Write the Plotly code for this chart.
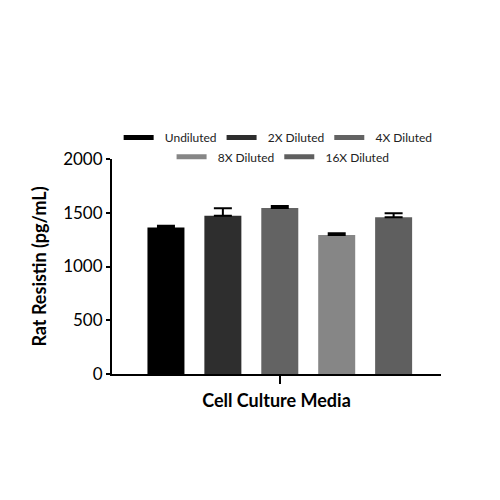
import plotly.graph_objects as go

series = ["Undiluted", "2X Diluted", "4X Diluted", "8X Diluted", "16X Diluted"]
values = [1362, 1473, 1545, 1292, 1458]
errors = [18, 68, 18, 17, 38]
colors = ["#000000", "#2e2e2e", "#636363", "#868686", "#5f5f5f"]
category = "Cell Culture Media"
yticks = [0, 500, 1000, 1500, 2000]

FONT = "Lato"
NB = "\u00a0\u00a0"
fig = go.Figure()
for i, (s, v, e, c) in enumerate(zip(series, values, errors, colors)):
    fig.add_trace(go.Bar(
        x=[0], y=[v], name=s, marker=dict(color=c, line=dict(width=0)),
        error_y=dict(type="data", array=[e], arrayminus=[0], symmetric=False,
                     color="black", thickness=2, width=9),
        showlegend=False, offsetgroup=str(i),
    ))
    fig.add_trace(go.Scatter(
        x=[None], y=[None], mode="lines", name=NB + s,
        line=dict(color=c, width=5),
        legend="legend" if i < 3 else "legend2",
    ))

fig.update_layout(
    width=500, height=500,
    margin=dict(l=104, r=67, t=151, b=134),
    plot_bgcolor="white", paper_bgcolor="white",
    barmode="group", bargap=0.135, bargroupgap=0.35,
    font=dict(family=FONT, color="black"),
    legend=dict(orientation="h", x=0.505, xanchor="center", y=1.10, yanchor="middle",
                font=dict(size=12, family=FONT, color="#222"), bgcolor="rgba(0,0,0,0)",
                itemwidth=30),
    legend2=dict(orientation="h", x=0.52, xanchor="center", y=1.01, yanchor="middle",
                 font=dict(size=12, family=FONT, color="#222"), bgcolor="rgba(0,0,0,0)",
                 itemwidth=30),
    xaxis=dict(range=[-0.51, 0.49], tickvals=[0], ticktext=[""],
               showline=True, linecolor="black", linewidth=2,
               ticks="outside", ticklen=8, tickwidth=2, tickcolor="black",
               showgrid=False, zeroline=False,
               title=dict(text=f"<b>{category}</b>", font=dict(size=18, family=FONT), standoff=9)),
    yaxis=dict(range=[0, 2000], tickvals=yticks,
               showline=True, linecolor="black", linewidth=2,
               ticks="outside", ticklen=4, tickwidth=2, tickcolor="black",
               showgrid=False, zeroline=False,
               tickfont=dict(size=17, family=FONT),
               tickprefix="<b>", ticksuffix="</b>",
               title=dict(text="<b>Rat Resistin (pg/mL)</b>", font=dict(size=18, family=FONT), standoff=12)),
)
fig.write_html("out.html")
